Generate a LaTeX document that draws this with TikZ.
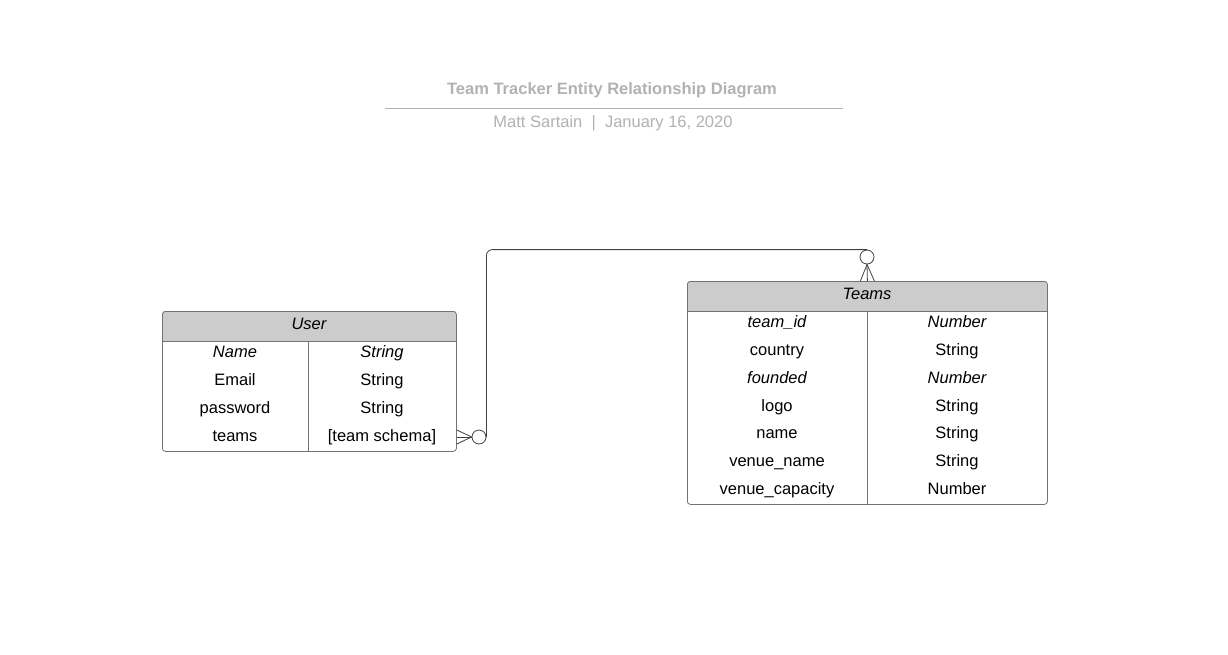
\documentclass[tikz,border=0pt]{standalone}
\usepackage{fontspec}
\setmainfont{Liberation Sans}
\begin{document}
\begin{tikzpicture}[x=1pt,y=-1pt,
  font=\fontsize{16.5}{19}\selectfont,
  tbl/.style={draw=black!55, line width=0.8pt, rounded corners=3pt, inner sep=0pt, anchor=north west},
  hdrfill/.style={fill=black!20},
  cell/.style={inner sep=0pt, anchor=base, text=black},
  ital/.style={cell, font=\fontsize{16.5}{19}\selectfont\itshape},
  sep/.style={draw=black!55, line width=0.8pt},
  conn/.style={draw=black!75, line width=0.8pt},
  ring/.style={circle, draw=black!75, line width=0.8pt, fill=white, minimum size=14pt, inner sep=0pt},
  ttl/.style={text=black!30, inner sep=0pt, anchor=base}
]
\useasboundingbox (0,0) rectangle (1228,654);
\fill[white] (0,0) rectangle (1228,654);

% title
\node[ttl, font=\fontsize{16.5}{19}\selectfont\bfseries] (title) at (612,94) {Team Tracker Entity Relationship Diagram};
\coordinate (tl) at (385,108);
\coordinate (tr) at (843,108);
\draw[black!30, line width=1pt] (tl) -- (tr);
\node[ttl] (sub) at (613,127) {Matt Sartain\ \ |\ \ January 16, 2020};

% User table
\fill[hdrfill, rounded corners=3pt] (162,311) rectangle (456,341);
\fill[hdrfill] (162,330) rectangle (456,341);
\node[tbl, minimum width=294pt, minimum height=140pt] (user) at (162,311) {};
\draw[sep] (162,341) -- (456,341);
\draw[sep] (308,341) -- (308,451);
\node[ital] (userH) at (309,329) {User};
\node[ital] (u1a) at (235,357) {Name};
\node[ital] (u1b) at (382,357) {String};
\node[cell] (u2a) at (235,385) {Email};
\node[cell] (u2b) at (382,385) {String};
\node[cell] (u3a) at (235,413) {password};
\node[cell] (u3b) at (382,413) {String};
\node[cell] (u4a) at (235,441) {teams};
\node[cell] (u4b) at (382,441) {[team schema]};

% Teams table
\fill[hdrfill, rounded corners=3pt] (687,281) rectangle (1047,311);
\fill[hdrfill] (687,300) rectangle (1047,311);
\node[tbl, minimum width=360pt, minimum height=223pt] (teams) at (687,281) {};
\draw[sep] (687,311) -- (1047,311);
\draw[sep] (867,311) -- (867,504);
\node[ital] (teamsH) at (867,299) {Teams};
\node[ital] (t1a) at (777,327) {team\_id};
\node[ital] (t1b) at (957,327) {Number};
\node[cell] (t2a) at (777,355) {country};
\node[cell] (t2b) at (957,355) {String};
\node[ital] (t3a) at (777,383) {founded};
\node[ital] (t3b) at (957,383) {Number};
\node[cell] (t4a) at (777,411) {logo};
\node[cell] (t4b) at (957,411) {String};
\node[cell] (t5a) at (777,438) {name};
\node[cell] (t5b) at (957,438) {String};
\node[cell] (t6a) at (777,466) {venue\_name};
\node[cell] (t6b) at (957,466) {String};
\node[cell] (t7a) at (777,494) {venue\_capacity};
\node[cell] (t7b) at (957,494) {Number};

% connector
\node[ring] (c1) at (479,437) {};
\node[ring] (c2) at (867,257) {};
\draw[conn, rounded corners=6pt] (c1.east) |- (c2.north);
\draw[conn] (c1.west) -- ([yshift=-7pt]user.east |- c1);
\draw[conn] (c1.west) -- (user.east |- c1);
\draw[conn] (c1.west) -- ([yshift=7pt]user.east |- c1);
\draw[conn] (c2.south) -- ([xshift=-7pt]teams.north);
\draw[conn] (c2.south) -- (teams.north);
\draw[conn] (c2.south) -- ([xshift=7pt]teams.north);
\end{tikzpicture}
\end{document}
